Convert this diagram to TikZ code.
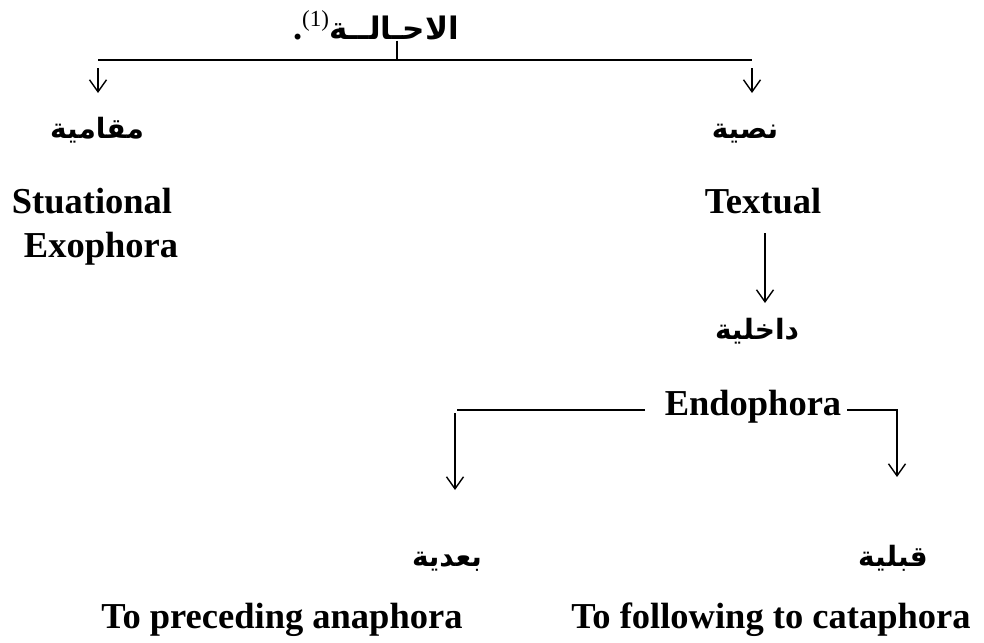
\documentclass[tikz,border=0pt]{standalone}
\usepackage{fontspec}
\setmainfont{Liberation Serif}
\newfontfamily\arabicfont[Script=Arabic]{DejaVu Sans}
\TeXXeTstate=1
\usetikzlibrary{arrows.meta}

\tikzset{
  lbl/.style={anchor=base, inner sep=0pt, font=\fontsize{36.5}{40}\selectfont\bfseries},
  arlbl/.style={anchor=base, inner sep=0pt, font=\fontsize{28}{32}\arabicfont\bfseries},
  wire/.style={line width=1.4pt},
  down/.style={wire, -{Straight Barb[length=12pt,width=17pt,line width=1.4pt]}}
}

\begin{document}
\begin{tikzpicture}[x=1pt, y=-1pt]
  \useasboundingbox (0,0) rectangle (984,642);

  % root term
  \node[anchor=base, inner sep=0pt] (root) at (376,40)
    {\fontsize{36.5}{40}\selectfont\bfseries .\raisebox{13pt}{\fontsize{23}{26}\selectfont\mdseries(1)}{\fontsize{31}{34}\arabicfont\bfseries\beginR الاحـالــة\endR}};

  % first split
  \coordinate (tick) at (397,60);
  \coordinate (barL) at (98,60);
  \coordinate (barR) at (752,60);
  \coordinate (aLs) at (98,68);
  \coordinate (aRs) at (752,68);
  \coordinate (aLe) at (98,93);
  \coordinate (aRe) at (752,93);

  \node[arlbl] (maqam) at (97,138) {\beginR مقامية\endR};
  \node[arlbl] (nass) at (745,138) {\beginR نصية\endR};
  \node[lbl] (stu) at (92,213) {Stuational};
  \node[lbl] (exo) at (101,257) {Exophora};
  \node[lbl] (text) at (763,213) {Textual};

  \node[arlbl] (dakh) at (757,339) {\beginR داخلية\endR};
  \node[lbl] (endo) at (753,415) {Endophora};

  \node[arlbl] (baad) at (447,566) {\beginR بعدية\endR};
  \node[arlbl] (qabl) at (893,566) {\beginR قبلية\endR};
  \node[lbl] (prec) at (282,628) {To preceding anaphora};
  \node[lbl] (foll) at (771,628) {To following to cataphora};

  % connectors
  \draw[wire] (tick |- root.south) -- (tick);
  \draw[wire] (barL) -- (barR);
  \draw[down] (aLs) -- (aLe);
  \draw[down] (aRs) -- (aRe);

  \coordinate (tA) at (765,233);
  \coordinate (tB) at (765,303);
  \draw[down] (tA) -- (tB);

  \coordinate (eL1) at (645,410);
  \coordinate (eL2) at (457,410);
  \coordinate (eL3) at (455,413);
  \coordinate (eL4) at (455,490);
  \draw[wire] (eL1) -- (eL2);
  \draw[down] (eL3) -- (eL4);

  \coordinate (eR1) at (847,410);
  \coordinate (eR2) at (897,410);
  \coordinate (eR3) at (897,477);
  \draw[down] (eR1) -- (eR2) -- (eR3);
\end{tikzpicture}
\end{document}
